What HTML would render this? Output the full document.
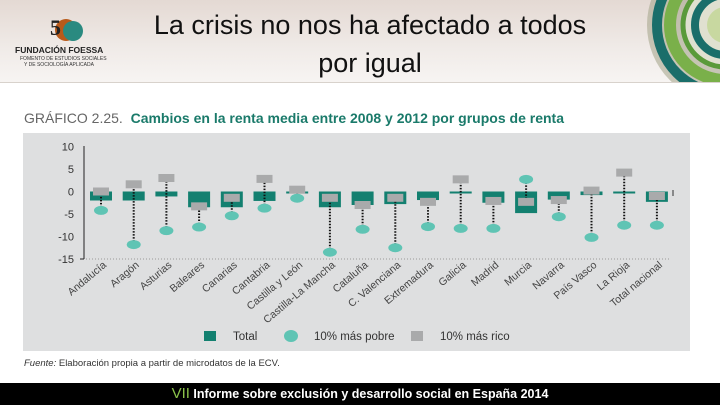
<!DOCTYPE html>
<html><head><meta charset="utf-8">
<style>
body{margin:0;width:720px;height:405px;overflow:hidden;background:#fff;font-family:"Liberation Sans",sans-serif;position:relative}
#hdr{position:absolute;left:0;top:0;width:720px;height:82px;background:linear-gradient(180deg,#e4d9d3 0%,#f0ebe8 60%,#f7f4f2 100%);border-bottom:1px solid #d8d2cc}
#title{position:absolute;left:120px;width:500px;top:6px;text-align:center;font-size:27px;line-height:38px;color:#111}
#panel{position:absolute;left:23px;top:133px;width:667px;height:218px;background:#dedfe0}
#gtitle{position:absolute;left:24px;top:110px;font-size:14px;font-weight:bold;color:#1a7a6a;white-space:nowrap}
#gtitle span{color:#666;font-weight:normal}
#src{position:absolute;left:24px;top:358px;font-size:9.5px;color:#333}
#foot{position:absolute;left:0;top:383px;width:720px;height:22px;background:#000;color:#fff;font-size:12.5px;font-weight:bold;text-align:center;line-height:22px}
</style></head><body>
<div id="hdr">
 <svg width="130" height="80" style="position:absolute;left:0;top:0">
  <circle cx="66" cy="30" r="11" fill="#b85a1a"/><circle cx="73" cy="31" r="10" fill="#2a8a80"/>
  <text x="50" y="35" font-size="22" font-weight="bold" fill="#222" font-family="Liberation Serif">5</text>
  <text x="15" y="53" font-size="8.5" font-weight="bold" fill="#222">FUNDACIÓN FOESSA</text>
  <text x="20" y="60" font-size="5" fill="#333">FOMENTO DE ESTUDIOS SOCIALES</text>
  <text x="24" y="66" font-size="5" fill="#333">Y DE SOCIOLOGÍA APLICADA</text>
 </svg>
 <div id="title">La crisis no nos ha afectado a todos<br>por igual</div>
 <svg width="120" height="82" style="position:absolute;left:600px;top:0">
  <circle cx="125" cy="25" r="78" fill="#a8a890" opacity="0.6"/>
  <circle cx="125" cy="25" r="68" fill="none" stroke="#1a6e6a" stroke-width="10"/>
  <circle cx="125" cy="25" r="55" fill="none" stroke="#7ab04a" stroke-width="12"/>
  <circle cx="125" cy="25" r="42" fill="#e0e0d0" stroke="#5a9a3a" stroke-width="5"/>
  <circle cx="125" cy="25" r="30" fill="none" stroke="#1a6e6a" stroke-width="8"/>
  <circle cx="125" cy="25" r="18" fill="#c8d8a0"/>
 </svg>
</div>
<div id="gtitle"><span>GRÁFICO 2.25.</span>&nbsp; Cambios en la renta media entre 2008 y 2012 por grupos de renta</div>
<div id="panel"></div>
<svg id="chart" width="720" height="405" style="position:absolute;left:0;top:0"></svg>
<div id="src"><i>Fuente:</i> Elaboración propia a partir de microdatos de la ECV.</div>
<div id="foot"><span style="color:#8bc34a;font-weight:normal;font-size:15px">VII</span> Informe sobre exclusión y desarrollo social en España 2014</div>
<script>
const categories=["Andalucía","Aragón","Asturias","Baleares","Canarias","Cantabria","Castilla y León","Castilla-La Mancha","Cataluña","C. Valenciana","Extremadura","Galicia","Madrid","Murcia","Navarra","País Vasco","La Rioja","Total nacional"];
const totalValues=[-2,-2,-1.1,-3.5,-3.5,-2.1,-0.3,-3.5,-3,-2.8,-1.9,-0.3,-2.5,-4.8,-1.8,-0.8,-0.3,-2.3];
const poorValues=[-4.2,-11.8,-8.7,-7.9,-5.4,-3.7,-1.5,-13.5,-8.4,-12.5,-7.8,-8.2,-8.2,2.7,-5.6,-10.2,-7.5,-7.5];
const richValues=[0,1.6,3,-3.3,-1.4,2.8,0.4,-1.4,-3,-1.4,-2.3,2.7,-2.1,-2.3,-1.9,0.2,4.2,-1];
const yTicks=[10,5,0,-5,-10,-15];
const yTickLabels=["10","5","0","-5","-10","-15"];
const svg=document.getElementById('chart');const NS="http://www.w3.org/2000/svg";
const y=v=>191.5-v*4.5;
const x=i=>101+i*32.7;
function mk(t,a){const e=document.createElementNS(NS,t);for(const k in a)e.setAttribute(k,a[k]);svg.appendChild(e);return e;}
let e=mk('line',{x1:84,y1:146,x2:84,y2:259,stroke:'#222','stroke-width':1});


mk('line',{x1:80,y1:259,x2:84,y2:259,stroke:'#222'});
e=mk('line',{x1:86,y1:259,x2:670,y2:259,stroke:'#999','stroke-dasharray':'1,2'});


yTicks.forEach((t,i)=>{const l=mk('text',{x:74,y:y(t)+4,'text-anchor':'end','font-size':11,fill:'#333'});l.textContent=yTickLabels[i];

});
categories.forEach((c,i)=>{
 const cx=x(i),tv=totalValues[i],pv=poorValues[i],rv=richValues[i];
 const bh=Math.max(y(tv)-y(0),2);
 let b=mk('rect',{x:cx-11,y:y(0),width:22,height:bh,fill:'#138070'});
 
 
 let d=mk('line',{x1:cx,y1:y(pv),x2:cx,y2:y(rv),stroke:'#111','stroke-width':2,'stroke-dasharray':'1.5,1.5'});
 
 
 let r=mk('rect',{x:cx-8,y:y(rv)-4,width:16,height:8,fill:'#a9aaab'});
 
 
 let p=mk('ellipse',{cx:cx,cy:y(pv),rx:7,ry:4.5,fill:'#5fc4b4'});
 
 
 let t=mk('text',{x:cx+6,y:266,'text-anchor':'end','font-size':10.5,fill:'#444',transform:`rotate(-40 ${cx+6} 266)`});
 t.textContent=c;
 
 
});
mk('line',{x1:673,y1:190,x2:673,y2:196,stroke:'#333'});
const lg=[[209,'rect','#138070','Total'],[290,'ell','#5fc4b4','10% más pobre'],[416,'rect','#a9aaab','10% más rico']];
lg.forEach(l=>{let m;
 if(l[1]=='rect')m=mk('rect',{x:l[0]-5,y:331,width:12,height:10,fill:l[2]});else m=mk('ellipse',{cx:l[0]+1,cy:336,rx:7,ry:6,fill:l[2]});
 
 
 const t=mk('text',{x:l[0]+24,y:340,'font-size':11.5,fill:'#333'});t.textContent=l[3];
 
 });
</script>
</body></html>
